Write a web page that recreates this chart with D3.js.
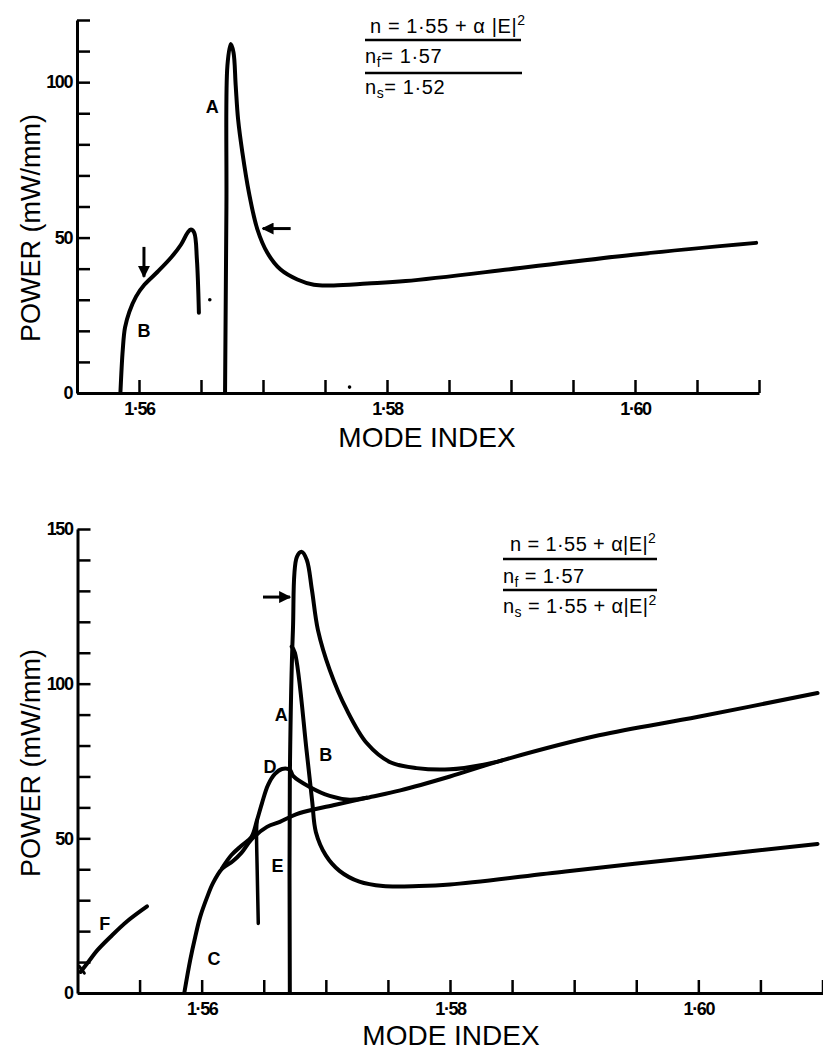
<!DOCTYPE html>
<html>
<head>
<meta charset="utf-8">
<script src="https://cdnjs.cloudflare.com/ajax/libs/d3/7.8.5/d3.min.js"></script>
<style>
  html, body { margin: 0; padding: 0; background: #fff; }
  svg text { font-family: "Liberation Sans", Arial, sans-serif; fill: #000; }
</style>
</head>
<body>
<svg id="chart" width="823" height="1059"></svg>
<script>
// ---------------- DATA ----------------
// Top panel (n_s = 1.52)
const topYTicks = [0,10,20,30,40,50,60,70,80,90,100,110,120];
const topYLabels = {0:"0", 50:"50", 100:"100"};
const topXTicks = [1.56,1.565,1.57,1.575,1.58,1.585,1.59,1.595,1.60,1.605,1.61];
const xTickLabelVals = [1.56, 1.58, 1.60];
const xTickLabels = ["1·56", "1·58", "1·60"];

const topCurveA = [[1.56694,0],[1.56705,60],[1.56713,105.3],[1.5674,112.3],[1.56762,109.6],[1.5678,98.8],[1.56799,88.1],[1.56834,77.3],[1.56887,64.4],[1.56955,52.6],[1.57035,45.1],[1.57142,39.7],[1.57277,36.5],[1.5741,34.8],[1.57571,34.6],[1.5784,35.2],[1.5815,36.0],[1.59073,40.2],[1.59985,44.5],[1.60977,48.3]];
const topCurveB = [[1.5585,0],[1.55869,13.9],[1.55887,21.0],[1.55922,26.1],[1.55976,31.0],[1.56043,34.8],[1.5615,39.0],[1.56257,43.5],[1.56338,47.7],[1.56392,51.6],[1.56418,52.6],[1.56445,51.6],[1.56467,42.9],[1.56483,25.8]];
const topArrows = [ {from:[1.5604,47], to:[1.5604,37.4]}, {from:[1.57223,52.9], to:[1.56998,52.9]} ];
const topSpecks = [[1.56571,30],[1.57698,1.9]];
const topLetters = [{t:"A", p:[1.5659,92]}, {t:"B", p:[1.5604,20]}];

// Bottom panel (n_s = 1.55 + a|E|^2)
const botYTicks = [0,10,20,30,40,50,60,70,80,90,100,110,120,130,140,150];
const botYLabels = {0:"0", 50:"50", 100:"100", 150:"150"};
const botXTicks = [1.555,1.56,1.565,1.57,1.575,1.58,1.585,1.59,1.595,1.60,1.605,1.61];

const botCurveA = [[1.5671,0],[1.5671,69],[1.56735,117.4],[1.56767,141],[1.56807,142.6],[1.56847,140],[1.56888,130.3],[1.56936,117.4],[1.57032,104.4],[1.57169,91.5],[1.57329,80.8],[1.57514,74.7],[1.57731,72.7],[1.5800,72.3],[1.5827,73.8],[1.5842,75.2]];
const botCurveB = [[1.56725,112],[1.56751,110],[1.56846,78],[1.5689,62],[1.5692,52],[1.5700,44.5],[1.5711,39.5],[1.5727,36],[1.5746,34.6],[1.5775,34.6],[1.5800,35.1],[1.5893,39.3],[1.6000,44],[1.6096,48.2]];
const botCurveC = [[1.5586,0],[1.55908,10.7],[1.55948,18.1],[1.55988,24.6],[1.56044,31],[1.56092,35.6],[1.56165,40.2],[1.5625,42.6],[1.5632,45.3],[1.5640,49.6],[1.56526,53.7],[1.5663,55.3],[1.56711,56.9],[1.56791,58.2],[1.5706,60.7],[1.5733,63.1],[1.5760,65.5],[1.5800,70],[1.5842,75.2],[1.5920,83.3],[1.6000,89.3],[1.6096,97]];
const botCurveD = [[1.56165,40.4],[1.5624,44.6],[1.5632,47.6],[1.5640,50.4],[1.56446,55.9],[1.56486,61.4],[1.56534,67.2],[1.5659,70.8],[1.56647,72.4],[1.56711,72.1],[1.56736,70.2],[1.5687,66.6],[1.57031,63.7],[1.57192,62.5],[1.5733,63.1]];
const botCurveE = [[1.56456,22.5],[1.56447,40],[1.56442,52],[1.56446,55.9]];
const botCurveF = [[1.55024,6.8],[1.5509,10.2],[1.55157,13.7],[1.55264,18.1],[1.554,23.2],[1.5556,28.0]];
const botFMark = [[1.55015,8.6],[1.55055,6.4]];
const botArrows = [ {from:[1.56494,128], to:[1.56711,128]} ];
const botLetters = [{t:"A", p:[1.5664,90]}, {t:"B", p:[1.5700,77]}, {t:"D", p:[1.5655,73]}, {t:"E", p:[1.5661,41]}, {t:"C", p:[1.5610,11]}, {t:"F", p:[1.5522,22.5]}];

// ---------------- DRAWING ----------------
const svg = d3.select("#chart");
const defs = svg.append("defs");
defs.append("marker").attr("id","ah").attr("viewBox","0 0 10 10").attr("refX",9).attr("refY",5)
  .attr("markerWidth",4).attr("markerHeight",4).attr("orient","auto")
  .append("path").attr("d","M0,0 L10,5 L0,10 Z").attr("fill","#000");

function panel(cfg) {
  const g = svg.append("g");
  const x = d3.scaleLinear().domain(cfg.xDomain).range(cfg.xRange);
  const y = d3.scaleLinear().domain(cfg.yDomain).range(cfg.yRange);

  const fmtX = d => { const i = xTickLabelVals.findIndex(v => Math.abs(v - d) < 1e-6); return i >= 0 ? xTickLabels[i] : ""; };
  const xAxis = d3.axisBottom(x).tickValues(cfg.xTicks).tickSizeInner(-13).tickSizeOuter(0).tickPadding(7).tickFormat(fmtX);
  const gx = g.append("g").attr("transform", `translate(0,${cfg.yRange[0]})`).call(xAxis);
  const yAxis = d3.axisLeft(y).tickValues(cfg.yTicks).tickSizeInner(-13).tickSizeOuter(0).tickPadding(5)
    .tickFormat(d => cfg.yLabels[d] !== undefined ? cfg.yLabels[d] : "");
  const gy = g.append("g").attr("transform", `translate(${cfg.xRange[0]},0)`).call(yAxis);
  [gx, gy].forEach(a => {
    a.select(".domain").attr("stroke","#000").attr("stroke-width",3);
    a.selectAll(".tick line").attr("stroke","#000").attr("stroke-width",2.5);
    a.selectAll(".tick text").attr("font-size",18).attr("font-weight","bold").attr("letter-spacing","-1.4px")
      .attr("font-family","Liberation Sans, Arial, sans-serif").attr("fill","#000");
  });
  gx.selectAll(".tick text").attr("dy","0.85em");

  // axis titles
  g.append("text").attr("x", cfg.xTitle[0]).attr("y", cfg.xTitle[1]).attr("text-anchor","middle")
    .attr("font-size",28).text("MODE INDEX");
  g.append("text").attr("transform", `translate(${cfg.yTitle[0]},${cfg.yTitle[1]}) rotate(-90)`)
    .attr("text-anchor","middle").attr("font-size",27).text("POWER (mW/mm)");

  const line = d3.line().x(d => x(d[0])).y(d => y(d[1])).curve(d3.curveCatmullRom.alpha(0.5));
  cfg.curves.forEach(c => {
    g.append("path").attr("d", line(c.data)).attr("fill","none").attr("stroke","#000")
      .attr("stroke-width", c.w || 4).attr("stroke-linejoin","round").attr("stroke-linecap","round");
  });
  cfg.arrows.forEach(a => {
    g.append("line").attr("x1", x(a.from[0])).attr("y1", y(a.from[1])).attr("x2", x(a.to[0])).attr("y2", y(a.to[1]))
      .attr("stroke","#000").attr("stroke-width",3).attr("marker-end","url(#ah)");
  });
  (cfg.specks || []).forEach(p => {
    g.append("circle").attr("cx", x(p[0])).attr("cy", y(p[1])).attr("r", 1.8).attr("fill","#000");
  });
  cfg.letters.forEach(l => {
    g.append("text").attr("x", x(l.p[0])).attr("y", y(l.p[1])).attr("text-anchor","middle")
      .attr("dy","0.35em").attr("font-size",18).attr("font-weight","bold").text(l.t);
  });

  // legend block
  const lg = g.append("g").attr("font-size",20).attr("letter-spacing", cfg.legend.ls || "0px");
  cfg.legend.lines.forEach(L => {
    const t = lg.append("text").attr("x", L.x).attr("y", L.y);
    t.append("tspan").text("n");
    if (L.sub) t.append("tspan").attr("font-size",14).attr("dy",4).text(L.sub);
    t.append("tspan").attr("dy", L.sub ? -4 : 0).text(L.rest);
    if (L.sup) t.append("tspan").attr("font-size",14).attr("dy",-8).text("2");
  });
  cfg.legend.rules.forEach(r => {
    lg.append("line").attr("x1", r[0]).attr("x2", r[1]).attr("y1", r[2]).attr("y2", r[2])
      .attr("stroke","#000").attr("stroke-width",2.5);
  });
  return {x, y, g};
}

panel({
  xDomain:[1.555,1.61], xRange:[77,759], yDomain:[0,120], yRange:[393,20],
  xTicks: topXTicks, yTicks: topYTicks, yLabels: topYLabels,
  xTitle:[427,447], yTitle:[40,228],
  curves:[{data:topCurveA, w:4}, {data:topCurveB, w:4}],
  arrows: topArrows, specks: topSpecks, letters: topLetters,
  legend:{ ls:"0.6px", lines:[
      {x:370, y:33, rest:" = 1·55 + α |E|", sup:true},
      {x:365, y:63, sub:"f", rest:"= 1·57"},
      {x:365, y:94, sub:"s", rest:"= 1·52"}],
    rules:[[365,521,40],[365,522,73]] }
});

panel({
  xDomain:[1.55,1.61], xRange:[77.5,822.5], yDomain:[0,150], yRange:[993,529],
  xTicks: botXTicks, yTicks: botYTicks, yLabels: botYLabels,
  xTitle:[451,1045], yTitle:[40,763],
  curves:[{data:botCurveA, w:4}, {data:botCurveB, w:4}, {data:botCurveC, w:4}, {data:botCurveD, w:4}, {data:botCurveE, w:3.5}, {data:botCurveF, w:4}, {data:botFMark, w:3}],
  arrows: botArrows, letters: botLetters,
  legend:{ ls:"0.4px", lines:[
      {x:510, y:551, rest:"  = 1·55 + α|E|", sup:true},
      {x:503, y:583, sub:"f", rest:"  = 1·57"},
      {x:503, y:613, sub:"s", rest:"  = 1·55 + α|E|", sup:true}],
    rules:[[503,657,559],[503,657,590]] }
});
</script>
</body>
</html>
